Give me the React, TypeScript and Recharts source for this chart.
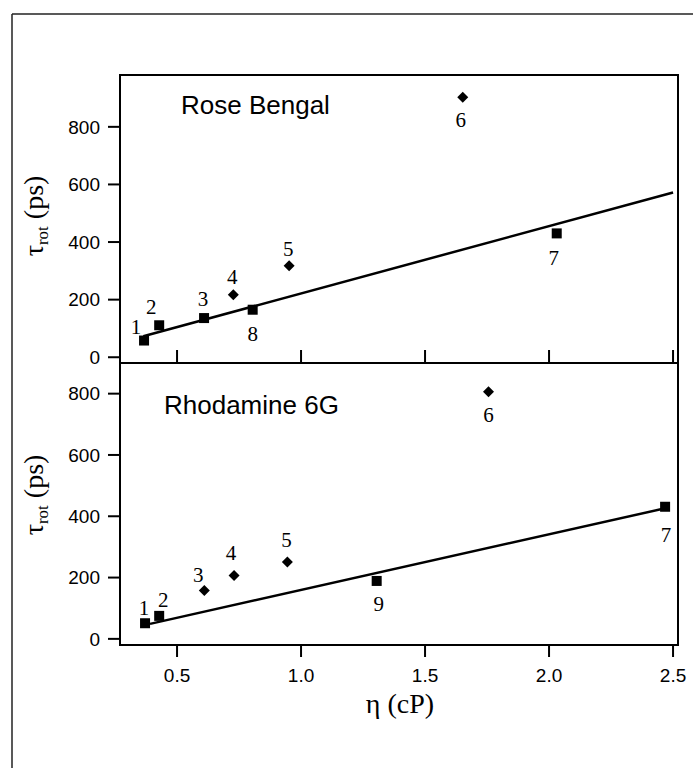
// Rotational time vs. viscosity — two stacked scatter panels with linear fits
import React from 'react';
import { ScatterChart, Scatter, XAxis, YAxis } from 'recharts';

const SANS = '"Liberation Sans", Arial, Helvetica, sans-serif';
const SERIF = '"Liberation Serif", "Times New Roman", Times, serif';

// Rose Bengal (top panel)
const rbLabels = ['1', '2', '3', '4', '5', '6', '7', '8'];
const rbEta = [0.367, 0.428, 0.609, 0.727, 0.952, 1.652, 2.031, 0.805];
const rbTau = [58, 111, 136, 217, 318, 903, 430, 165];
const rbKind = ['sq', 'sq', 'sq', 'di', 'di', 'di', 'sq', 'sq'];
const rbFitEta = [0.364, 2.5];
const rbFitTau = [73, 572];

// Rhodamine 6G (bottom panel)
const r6Labels = ['1', '2', '3', '4', '5', '6', '7', '9'];
const r6Eta = [0.371, 0.428, 0.61, 0.73, 0.945, 1.756, 2.468, 1.305];
const r6Tau = [51, 75, 158, 207, 251, 806, 431, 189];
const r6Kind = ['sq', 'sq', 'di', 'di', 'di', 'di', 'sq', 'sq'];
const r6FitEta = [0.391, 2.468];
const r6FitTau = [49, 426];

const xTicks = [0.5, 1.0, 1.5, 2.0, 2.5];
const yTicks = [0, 200, 400, 600, 800];
const xDomain: [number, number] = [0.27, 2.52];

// label placement relative to each marker (px), same order as the labels
const rbLabelDx = [-8, -8, -1, -1, -1, -2, -3, 0];
const rbLabelDy = [-14, -18, -19, -18, -17, 23, 25, 24];
const r6LabelDx = [-1, 4, -6, -3, -1, 0, 1, 2];
const r6LabelDy = [-15, -16, -15, -22, -22, 23, 28, 23];

type Pt = { eta: number; tau: number; label: string; kind: string; dx: number; dy: number };

function buildPoints(
  labels: string[], eta: number[], tau: number[], kind: string[], dx: number[], dy: number[],
): Pt[] {
  return labels.map((label, i) => ({ eta: eta[i], tau: tau[i], label, kind: kind[i], dx: dx[i], dy: dy[i] }));
}

function buildFit(eta: number[], tau: number[]) {
  return eta.map((e, i) => ({ eta: e, tau: tau[i] }));
}

/** marker + its number label */
function Marker(props: any) {
  const { cx, cy, payload } = props;
  if (cx == null || cy == null) return <g />;
  const p = payload as Pt;
  return (
    <g>
      {p.kind === 'sq' ? (
        <rect x={cx - 5} y={cy - 5} width={10} height={10} fill="#000" />
      ) : (
        <path d={`M${cx},${cy - 5.5} L${cx + 5.5},${cy} L${cx},${cy + 5.5} L${cx - 5.5},${cy} Z`} fill="#000" />
      )}
      <text
        x={cx + p.dx}
        y={cy + p.dy}
        textAnchor="middle"
        dominantBaseline="central"
        fontFamily={SERIF}
        fontSize={21}
        fill="#000"
      >
        {p.label}
      </text>
    </g>
  );
}

const axisLine = { stroke: '#000', strokeWidth: 2 };
const tickLine = { stroke: '#000', strokeWidth: 2 };

function TopPanel() {
  const pts = buildPoints(rbLabels, rbEta, rbTau, rbKind, rbLabelDx, rbLabelDy);
  const fit = buildFit(rbFitEta, rbFitTau);
  return (
    <div style={{ position: 'absolute', left: 0, top: 0 }}>
      <ScatterChart width={693} height={380} margin={{ top: 75, right: 15, bottom: 17, left: 60 }}>
        <XAxis
          type="number"
          dataKey="eta"
          domain={xDomain}
          ticks={xTicks}
          allowDataOverflow
          mirror
          axisLine={axisLine}
          tickLine={tickLine}
          tickSize={13}
          tick={() => <g />}
        />
        <YAxis
          type="number"
          dataKey="tau"
          domain={[-20, 980]}
          ticks={yTicks}
          allowDataOverflow
          width={60}
          axisLine={axisLine}
          tickLine={tickLine}
          tickSize={12}
          tickMargin={8}
          tick={{ fill: '#000', fontSize: 19, fontFamily: SANS }}
        />
        <Scatter data={fit} line={{ stroke: '#000', strokeWidth: 2.5 }} shape={() => <g />} isAnimationActive={false} />
        <Scatter data={pts} shape={Marker} isAnimationActive={false} />
      </ScatterChart>
    </div>
  );
}

function BottomPanel() {
  const pts = buildPoints(r6Labels, r6Eta, r6Tau, r6Kind, r6LabelDx, r6LabelDy);
  const fit = buildFit(r6FitEta, r6FitTau);
  return (
    <div style={{ position: 'absolute', left: 0, top: 300 }}>
      <ScatterChart width={693} height={400} margin={{ top: 63, right: 15, bottom: 15, left: 60 }}>
        <XAxis
          type="number"
          dataKey="eta"
          domain={xDomain}
          ticks={xTicks}
          allowDataOverflow
          height={40}
          axisLine={axisLine}
          tickLine={tickLine}
          tickSize={12}
          tickMargin={12}
          tickFormatter={(v: number) => v.toFixed(1)}
          tick={{ fill: '#000', fontSize: 19, fontFamily: SANS }}
        />
        <YAxis
          type="number"
          dataKey="tau"
          domain={[-20, 900]}
          ticks={yTicks}
          allowDataOverflow
          width={60}
          axisLine={axisLine}
          tickLine={tickLine}
          tickSize={12}
          tickMargin={8}
          tick={{ fill: '#000', fontSize: 19, fontFamily: SANS }}
        />
        <Scatter data={fit} line={{ stroke: '#000', strokeWidth: 2.5 }} shape={() => <g />} isAnimationActive={false} />
        <Scatter data={pts} shape={Marker} isAnimationActive={false} />
      </ScatterChart>
    </div>
  );
}

function AxisTitleY({ cy }: { cy: number }) {
  return (
    <text transform={`translate(43,${cy}) rotate(-90)`} textAnchor="middle" fontFamily={SERIF} fontSize={28} fill="#000">
      <tspan>τ</tspan>
      <tspan fontSize={17} dy={5}>rot</tspan>
      <tspan dy={-5}> (ps)</tspan>
    </text>
  );
}

export default function App() {
  return (
    <div
      style={{
        position: 'absolute',
        left: 0,
        top: 0,
        width: 693,
        height: 768,
        overflow: 'hidden',
        background: '#fff',
      }}
    >
      <TopPanel />
      <BottomPanel />
      <svg width={693} height={768} style={{ position: 'absolute', left: 0, top: 0, pointerEvents: 'none' }}>
        {/* outer frame */}
        <line x1={12} y1={14} x2={693} y2={14} stroke="#222" strokeWidth={1.5} />
        <line x1={12} y1={14} x2={12} y2={768} stroke="#222" strokeWidth={1.5} />
        {/* panel box */}
        <rect x={120} y={75} width={558} height={570} fill="none" stroke="#000" strokeWidth={2} />
        <text x={181} y={114} fontFamily={SANS} fontSize={26} fill="#000">Rose Bengal</text>
        <text x={164} y={414} fontFamily={SANS} fontSize={26} fill="#000">Rhodamine 6G</text>
        <AxisTitleY cy={216} />
        <AxisTitleY cy={495} />
        <text x={400} y={713} textAnchor="middle" fontFamily={SERIF} fontSize={28} fill="#000">η (cP)</text>
      </svg>
    </div>
  );
}
